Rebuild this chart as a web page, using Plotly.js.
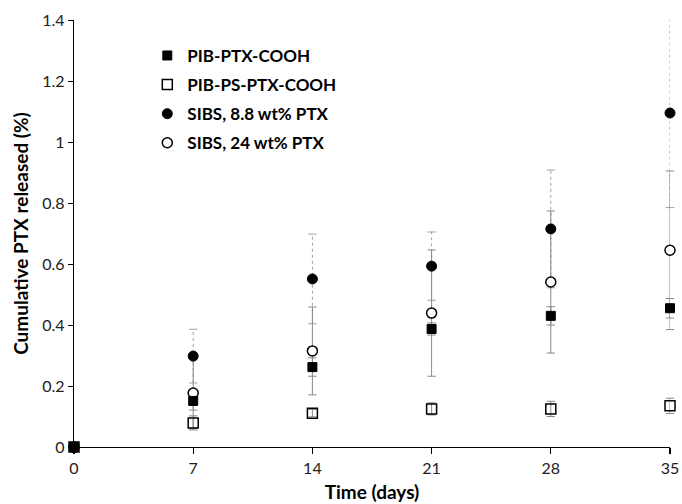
<!DOCTYPE html>
<html>
<head>
<meta charset="utf-8">
<script src="https://cdn.plot.ly/plotly-3.0.1.min.js"></script>
<style>html,body{margin:0;padding:0;background:#fff;}#chart{width:682px;height:504px;}</style>
</head>
<body>
<div id="chart"></div>
<script>
// ---- data ----
const days = [0, 7, 14, 21, 28, 35];
const seriesNames = ["PIB-PTX-COOH", "PIB-PS-PTX-COOH", "SIBS, 8.8 wt% PTX", "SIBS, 24 wt% PTX"];
const pibPtxCooh = [0, 0.151, 0.262, 0.387, 0.430, 0.455];
const pibPtxCoohErr = [0, 0.030, 0.030, 0.020, 0.030, 0.032];
const pibPsPtxCooh = [0, 0.079, 0.111, 0.125, 0.125, 0.135];
const pibPsPtxCoohErr = [0, 0.023, 0.012, 0.020, 0.025, 0.025];
const sibs88 = [0, 0.298, 0.551, 0.593, 0.715, 1.095];
const sibs88Err = [0, 0.088, 0.147, 0.112, 0.193, 0.31];
const sibs24 = [0, 0.177, 0.315, 0.439, 0.541, 0.645];
const sibs24Err = [0, 0.115, 0.144, 0.207, 0.233, 0.26];
const xTicks = [0, 7, 14, 21, 28, 35];
const yTicks = [0, 0.2, 0.4, 0.6, 0.8, 1, 1.2, 1.4];
const yTickText = ["0", "0.2", "0.4", "0.6", "0.8", "1", "1.2", "1.4"];

const FONT = "Lato, 'Open Sans', sans-serif";

function errTraces(y, e, dash, color) {
  const lx = [], ly = [], cx = [], cy = [];
  days.forEach((d, i) => {
    if (e[i] <= 0) return;
    lx.push(d, d, null); ly.push(y[i] - e[i], y[i] + e[i], null);
    cx.push(d, d); cy.push(y[i] - e[i], y[i] + e[i]);
  });
  return [
    {x: lx, y: ly, mode: "lines", line: {color: color, width: 1, dash: dash}, showlegend: false, hoverinfo: "skip", cliponaxis: false},
    {x: cx, y: cy, mode: "markers", marker: {symbol: "line-ew", size: 6, line: {color: color, width: 1}}, showlegend: false, hoverinfo: "skip", cliponaxis: false}
  ];
}

const traces = [].concat(
  errTraces(sibs88, sibs88Err, "dot", "#a0a0a0"),
  errTraces(sibs24, sibs24Err, "solid", "#888888"),
  errTraces(pibPtxCooh, pibPtxCoohErr, "solid", "#888888"),
  errTraces(pibPsPtxCooh, pibPsPtxCoohErr, "solid", "#888888"),
  [
    {x: days, y: pibPsPtxCooh, name: seriesNames[1], mode: "markers", legendgroup: "b", legendrank: 2,
     marker: {symbol: "square-open", size: 10, color: "#000", line: {color: "#000", width: 1.5}}, cliponaxis: false},
    {x: days, y: sibs88, name: seriesNames[2], mode: "markers", legendgroup: "c", legendrank: 3,
     marker: {symbol: "circle", size: 10, color: "#000", line: {color: "#000", width: 1}}, cliponaxis: false},
    {x: days, y: sibs24, name: seriesNames[3], mode: "markers", legendgroup: "d", legendrank: 4,
     marker: {symbol: "circle", size: 10, color: "#fff", line: {color: "#000", width: 1.5}}, cliponaxis: false},
    {x: days, y: pibPtxCooh, name: seriesNames[0], mode: "markers", legendgroup: "a", legendrank: 1,
     marker: {symbol: "square", size: 9, color: "#000", line: {color: "#000", width: 1}}, cliponaxis: false}
  ]
);

const layout = {
  width: 682, height: 504,
  margin: {l: 74, r: 12, t: 20, b: 57},
  paper_bgcolor: "#fff", plot_bgcolor: "#fff",
  font: {family: FONT, size: 16, color: "#222"},
  showlegend: true,
  legend: {x: 0.123, y: 0.958, xanchor: "left", yanchor: "top", traceorder: "grouped", tracegroupgap: 4,
           font: {family: FONT, size: 17, color: "#000", weight: "bold"}, bgcolor: "rgba(0,0,0,0)", itemwidth: 30},
  xaxis: {
    range: [0, 35], tickvals: xTicks, ticktext: xTicks.map(String),
    showgrid: false, zeroline: false, showline: true, linecolor: "#000", linewidth: 1.3,
    ticks: "outside", ticklen: 6, tickwidth: 1.3, tickcolor: "#000",
    title: {text: "Time (days)", font: {family: FONT, size: 19, weight: "bold", color: "#000"}, standoff: 10},
    fixedrange: true
  },
  xaxis2: {
    overlaying: "x", anchor: "y", side: "bottom", matches: "x", range: [0, 35], tickvals: xTicks,
    showticklabels: false, showgrid: false, zeroline: false, showline: false,
    ticks: "inside", ticklen: 6, tickwidth: 1.3, tickcolor: "#000"
  },
  yaxis: {
    range: [0, 1.4], tickvals: yTicks, ticktext: yTickText,
    showgrid: false, zeroline: false, showline: true, linecolor: "#000", linewidth: 1.3,
    ticks: "outside", ticklen: 5, tickwidth: 1, tickcolor: "#000",
    title: {text: "Cumulative PTX released (%)", font: {family: FONT, size: 19, weight: "bold", color: "#000"}, standoff: 8},
    fixedrange: true
  }
};

Plotly.newPlot("chart", traces, layout, {displayModeBar: false, staticPlot: true});
</script>
</body>
</html>
